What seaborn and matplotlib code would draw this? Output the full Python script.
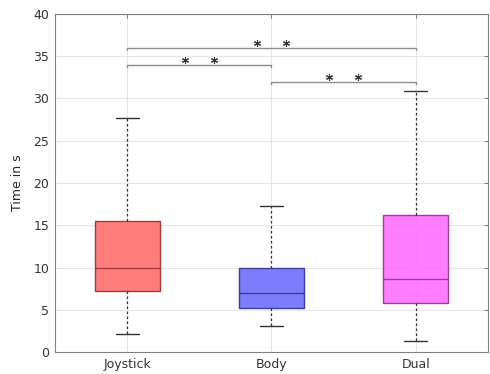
import numpy as np
import pandas as pd
import matplotlib
matplotlib.use("Agg")
import matplotlib.pyplot as plt
import seaborn as sns

# ---- data (box-plot summary statistics, seconds) ----
categories = ["Joystick", "Body", "Dual"]
lower_whisker = [2.1, 3.1, 1.25]
quartile1 = [7.2, 5.2, 5.8]
median = [9.9, 7.0, 8.6]
quartile3 = [15.5, 10.0, 16.2]
upper_whisker = [27.7, 17.3, 30.9]

# significance brackets
pair_from = [0, 1, 0]
pair_to = [1, 2, 2]
pair_height = [34.0, 32.0, 36.0]

y_ticks = [0, 5, 10, 15, 20, 25, 30, 35, 40]

face_colors = ["#FF7272", "#7272FF", "#FF72FF"]
edge_colors = ["#9E3C3C", "#3C3CA0", "#9A3C9A"]

# five summary values per group -> boxplot with whiskers at min/max reproduces them
rows = []
for c, a, b, m, d, e in zip(categories, lower_whisker, quartile1, median,
                            quartile3, upper_whisker):
    for v in (a, b, m, d, e):
        rows.append({"group": c, "time": v})
df = pd.DataFrame(rows)

sns.set_theme(style="white")
plt.rcParams["font.family"] = ["DejaVu Sans"]

fig = plt.figure(figsize=(4.9, 3.74), dpi=100)
ax = fig.add_axes([0.112, 0.0588, 0.884, 0.9038])

sns.boxplot(data=df, x="group", y="time", hue="group", order=categories,
            hue_order=categories, palette=face_colors, legend=False,
            whis=(0, 100), width=0.45, linewidth=1.0, saturation=1,
            showfliers=False, ax=ax,
            whiskerprops=dict(linestyle=(0, (2, 2)), color="#333333", lw=0.9),
            capprops=dict(color="#333333", lw=1.0),
            capwidths=0.16)

for cont, ec in zip(ax.containers, edge_colors):
    for box in getattr(cont, "boxes", []):
        box.set_edgecolor(ec)
        fc = box.get_facecolor()
        box.set_facecolor((fc[0], fc[1], fc[2], 0.92))
    for med in getattr(cont, "medians", []):
        med.set_color(ec)
        med.set_linewidth(1.0)

ax.set_axisbelow(True)
ax.grid(True, axis="both", color="#e6e6e6", lw=0.8)

# significance brackets and asterisks
for i, j, h in zip(pair_from, pair_to, pair_height):
    ax.plot([i, i, j, j], [h - 0.25, h, h, h - 0.25], color="#8c8c8c", lw=1.0,
            zorder=4)
    mid = (i + j) / 2
    ax.plot([mid - 0.1, mid + 0.1], [h + 0.55, h + 0.55], linestyle="none",
            marker=(6, 2, 0), ms=5, mew=0.8, color="#333333", zorder=5)

ax.set_xlim(-0.5, 2.5)
ax.set_ylim(0, 40)
ax.set_yticks(y_ticks)
ax.set_xlabel("")
ax.set_ylabel("Time in s", fontsize=9, color="#262626", labelpad=7)
ax.tick_params(direction="in", top=True, right=True, length=3, width=0.6,
               color="#666666", labelsize=9, labelcolor="#333333", pad=4)
for s in ax.spines.values():
    s.set_color("#808080")
    s.set_linewidth(0.8)

fig.savefig("out.png", dpi=100)
